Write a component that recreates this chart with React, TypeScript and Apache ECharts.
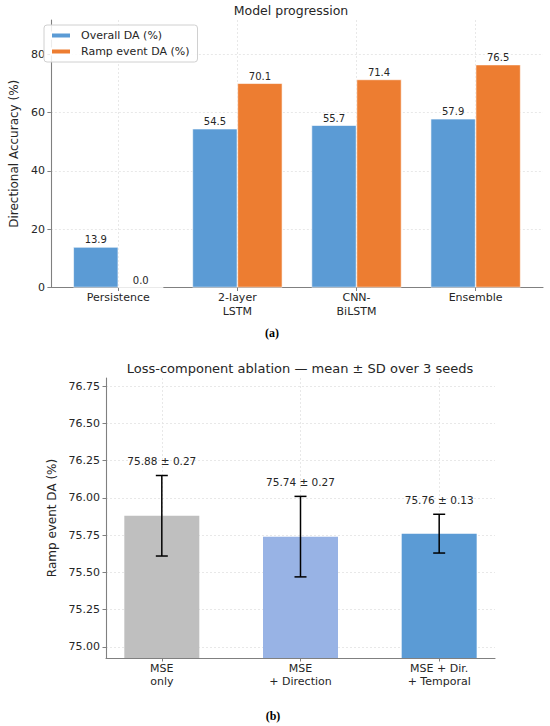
import React, { useEffect, useRef } from 'react';
import * as echarts from 'echarts';

// ---- Panel (a): model progression ----
const modelNames = ['Persistence', '2-layer\nLSTM', 'CNN-\nBiLSTM', 'Ensemble'];
const overallDA = [13.9, 54.5, 55.7, 57.9];
const rampDA = [0.0, 70.1, 71.4, 76.5];
const daTicks = [0, 20, 40, 60, 80];
const seriesNamesA = ['Overall DA (%)', 'Ramp event DA (%)'];

// ---- Panel (b): loss-component ablation ----
const lossNames = ['MSE\nonly', 'MSE\n+ Direction', 'MSE + Dir.\n+ Temporal'];
const lossMeans = [75.88, 75.74, 75.76];
const lossSDs = [0.27, 0.27, 0.13];
const ablationTicks = [75.0, 75.25, 75.5, 75.75, 76.0, 76.25, 76.5, 76.75];

const FONT = "'DejaVu Sans', sans-serif";
const TEXT = '#262626';
const AXIS = '#808080';
const lossColors = ['#bfbfbf', '#98b3e5', '#5b9bd5'];

const axisLine = { show: true, onZero: false, lineStyle: { color: AXIS, width: 1.1 } };
const splitLine = { show: true, lineStyle: { color: '#e2e2e2', type: [2, 2], width: 0.8 } };

export default function App() {
  const ref = useRef<HTMLDivElement>(null);
  useEffect(() => {
    if (!ref.current) return;
    const chart = echarts.init(ref.current, null, { renderer: 'svg' });
    const modelIdx = modelNames.map((_, i) => i);
    const lossIdx = lossNames.map((_, i) => i);
    const option: any = {
      animation: false,
      backgroundColor: '#ffffff',
      textStyle: { fontFamily: FONT },
      grid: [
        { left: 39, right: 7, top: 20, bottom: 438.5 },
        { left: 106, right: 55, top: 378, bottom: 68 },
      ],
      legend: {
        data: seriesNamesA,
        orient: 'vertical',
        left: 44,
        top: 25,
        icon: 'rect',
        itemWidth: 20,
        itemHeight: 6,
        itemGap: 3,
        padding: [4, 8, 4, 6],
        backgroundColor: 'rgba(255,255,255,0.85)',
        borderColor: '#d0d0d0',
        borderWidth: 1,
        borderRadius: 3,
        textStyle: { fontSize: 11, color: TEXT, fontFamily: FONT, lineHeight: 13, padding: [0, 0, 0, 5] },
      },
      xAxis: [
        {
          type: 'value',
          gridIndex: 0,
          min: -0.5656,
          max: 3.5656,
          axisLine,
          axisTick: { show: true, length: 3.5, customValues: modelIdx, lineStyle: { color: AXIS } },
          axisLabel: {
            customValues: modelIdx,
            formatter: (v: number) => modelNames[Math.round(v)] ?? '',
            fontSize: 11,
            lineHeight: 14,
            color: TEXT,
            margin: 3,
            fontFamily: FONT,
          },
          splitLine,
        },
        {
          type: 'value',
          gridIndex: 1,
          min: -0.4025,
          max: 2.4025,
          axisLine,
          axisTick: { show: true, length: 3.5, customValues: lossIdx, lineStyle: { color: AXIS } },
          axisLabel: {
            customValues: lossIdx,
            formatter: (v: number) => lossNames[Math.round(v)] ?? '',
            fontSize: 11,
            lineHeight: 13,
            color: TEXT,
            margin: 4,
            fontFamily: FONT,
          },
          splitLine,
        },
      ],
      yAxis: [
        {
          type: 'value',
          gridIndex: 0,
          min: 0,
          max: 91.8,
          axisLine,
          axisTick: { show: true, length: 3.5, customValues: daTicks, lineStyle: { color: AXIS } },
          axisLabel: { customValues: daTicks, fontSize: 11, color: TEXT, margin: 6, fontFamily: FONT },
          splitLine,
          name: 'Directional Accuracy (%)',
          nameLocation: 'middle',
          nameGap: 22,
          nameTextStyle: { fontSize: 12, color: TEXT, fontFamily: FONT },
        },
        {
          type: 'value',
          gridIndex: 1,
          min: 74.926,
          max: 76.804,
          axisLine,
          axisTick: { show: true, length: 3.5, customValues: ablationTicks, lineStyle: { color: AXIS } },
          axisLabel: {
            customValues: ablationTicks,
            formatter: (v: number) => v.toFixed(2),
            fontSize: 11,
            color: TEXT,
            margin: 6,
            fontFamily: FONT,
          },
          splitLine,
          name: 'Ramp event DA (%)',
          nameLocation: 'middle',
          nameGap: 43,
          nameTextStyle: { fontSize: 12, color: TEXT, fontFamily: FONT },
        },
      ],
      graphic: [
        { type: 'text', x: 291, y: 10, style: { text: 'Model progression', align: 'center', verticalAlign: 'middle', fontSize: 12.5, fill: TEXT, fontFamily: FONT } },
        { type: 'text', x: 300, y: 368, style: { text: 'Loss-component ablation — mean ± SD over 3 seeds', align: 'center', verticalAlign: 'middle', fontSize: 13, fill: TEXT, fontFamily: FONT } },
        { type: 'text', x: 272, y: 333, style: { text: '(a)', align: 'center', verticalAlign: 'middle', fontSize: 12, fontWeight: 'bold', fill: '#000', fontFamily: "'Liberation Serif', serif" } },
        { type: 'text', x: 273, y: 716, style: { text: '(b)', align: 'center', verticalAlign: 'middle', fontSize: 12, fontWeight: 'bold', fill: '#000', fontFamily: "'Liberation Serif', serif" } },
      ],
      series: [
        {
          name: seriesNamesA[0],
          type: 'bar',
          xAxisIndex: 0,
          yAxisIndex: 0,
          barWidth: 45,
          barGap: '0%',
          data: overallDA.map((v, i) => [i, v]),
          itemStyle: { color: '#5b9bd5', borderColor: '#ffffff', borderWidth: 0.6 },
          label: { show: true, position: 'top', distance: 2, fontSize: 10, color: TEXT, fontFamily: FONT, formatter: (p: any) => p.value[1].toFixed(1) },
        },
        {
          name: seriesNamesA[1],
          type: 'bar',
          xAxisIndex: 0,
          yAxisIndex: 0,
          barWidth: 45,
          barGap: '0%',
          data: rampDA.map((v, i) => [i, v]),
          itemStyle: { color: '#ed7d31', borderColor: '#ffffff', borderWidth: 0.6 },
          label: { show: true, position: 'top', distance: 2, fontSize: 10, color: TEXT, fontFamily: FONT, formatter: (p: any) => p.value[1].toFixed(1) },
        },
        {
          name: 'ablation',
          type: 'bar',
          xAxisIndex: 1,
          yAxisIndex: 1,
          barWidth: 75,
          clip: true,
          z: 2,
          data: lossMeans.map((v, i) => ({ value: [i, v], itemStyle: { color: lossColors[i] } })),
        },
        {
          name: 'errorbars',
          type: 'custom',
          xAxisIndex: 1,
          yAxisIndex: 1,
          clip: false,
          z: 10,
          encode: { x: 0, y: [1, 2] },
          data: lossMeans.map((m, i) => [i, m - lossSDs[i], m + lossSDs[i], m, lossSDs[i]]),
          renderItem: (params: any, api: any) => {
            const x = api.value(0);
            const lo = api.coord([x, api.value(1)]);
            const hi = api.coord([x, api.value(2)]);
            const mean = api.value(3);
            const sd = api.value(4);
            const cap = 6;
            const style = { stroke: '#000000', lineWidth: 1.5, fill: null };
            return {
              type: 'group',
              children: [
                { type: 'line', shape: { x1: lo[0], y1: lo[1], x2: hi[0], y2: hi[1] }, style },
                { type: 'line', shape: { x1: lo[0] - cap, y1: lo[1], x2: lo[0] + cap, y2: lo[1] }, style },
                { type: 'line', shape: { x1: hi[0] - cap, y1: hi[1], x2: hi[0] + cap, y2: hi[1] }, style },
                {
                  type: 'text',
                  x: hi[0],
                  y: hi[1] - 9,
                  style: {
                    text: `${mean.toFixed(2)} ± ${sd.toFixed(2)}`,
                    align: 'center',
                    verticalAlign: 'bottom',
                    fontSize: 10.5,
                    fill: TEXT,
                    fontFamily: FONT,
                  },
                },
              ],
            };
          },
        },
      ],
    };
    chart.setOption(option);
    return () => chart.dispose();
  }, []);
  return (
    <div
      ref={ref}
      style={{ position: 'fixed', left: 0, top: 0, width: 550, height: 726, background: '#fff' }}
    />
  );
}
